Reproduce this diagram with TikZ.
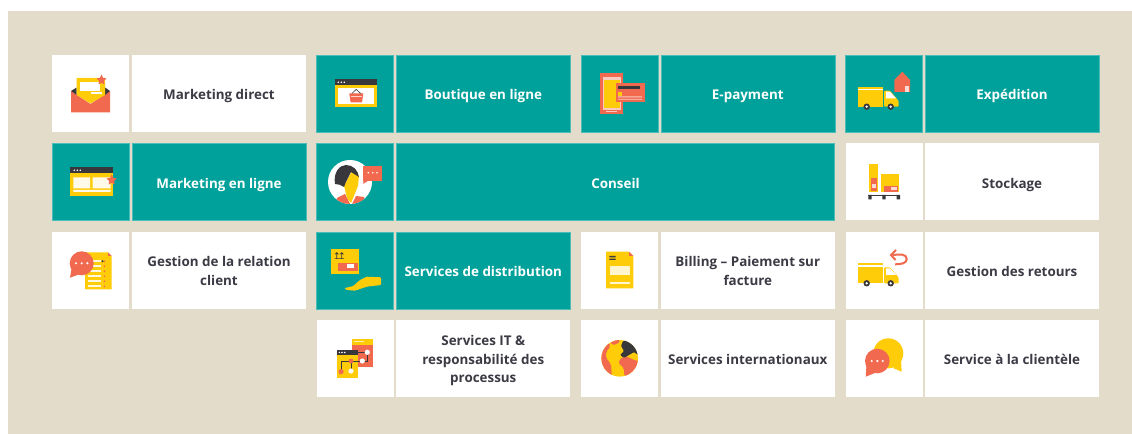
\documentclass[tikz,border=0pt]{standalone}
\usepackage{fontspec}
\setmainfont{Open Sans}
\usetikzlibrary{shapes}
\definecolor{sand}{HTML}{E3DCCB}
\definecolor{teal}{HTML}{00A19A}
\definecolor{ink}{HTML}{3B3B45}
\definecolor{sun}{HTML}{FFCC0A}
\definecolor{coral}{HTML}{F1694F}
\definecolor{coal}{HTML}{38383C}
\tikzset{
  icontile/.style={minimum width=77bp,minimum height=77bp,inner sep=0pt},
  labeltile/.style={minimum width=174bp,minimum height=77bp,inner sep=0pt,align=center,
    font=\fontsize{13.4bp}{18.5bp}\selectfont\bfseries,
    execute at begin node={\rule{0pt}{16bp}},execute at end node={\rule[-3.5bp]{0pt}{3.5bp}}},
  plain/.style={fill=white,text=ink},
  green/.style={fill=teal,text=white,draw=teal!70!white,line width=.4bp},
}
\newcommand{\stacked}[1]{\begin{tabular}{@{}c@{}}\rule{0pt}{17bp}#1\end{tabular}}
% truck used by Expedition and Gestion des retours
\newcommand{\truckshape}{
  \fill[sun] (858,86.7) rectangle (883.3,106.7);
  \fill[white] (858,88.6) rectangle (883.3,90);
  \fill[sun,rounded corners=1bp] (884,90.7) -- (890,90.7) -- (898.7,101) -- (898.7,106.7) -- (884,106.7) -- cycle;
  \fill[white] (886,91.7) -- (890,91.7) -- (896,98.3) -- (886,98.3) -- cycle;
  \fill[coal] (866.7,106.7) circle (3.2bp) (890.7,106.7) circle (3.2bp);
  \fill[white] (866.7,106.7) circle (1.3bp) (890.7,106.7) circle (1.3bp);
}
\begin{document}
\begin{tikzpicture}[x=1bp,y=-1bp]
\useasboundingbox (0,0) rectangle (1132,434);
\fill[sand] (8,11) rectangle (1132,434);
% first row
\node (IconDirect) at (90.5,93.5)[icontile,plain] {};
\node (TextDirect) at (219,93.5)[labeltile,plain] {Marketing direct};
\node (IconShop) at (355,93.5)[icontile,green] {};
\node (TextShop) at (483.3,93.5)[labeltile,green] {Boutique en ligne};
\node (IconPay) at (619.5,93.5)[icontile,green] {};
\node (TextPay) at (747.8,93.5)[labeltile,green] {E-payment};
\node (IconShip) at (884,93.5)[icontile,green] {};
\node (TextShip) at (1012,93.5)[labeltile,green] {Expédition};
% second row
\node (IconOnline) at (90.5,182)[icontile,green] {};
\node (TextOnline) at (219,182)[labeltile,green] {Marketing en ligne};
\node (IconAdvice) at (355,182)[icontile,green] {};
\node (TextAdvice) at (615.5,182)[labeltile,green,minimum width=438bp] {Conseil};
\node (IconStock) at (884,182)[icontile,plain] {};
\node (TextStock) at (1012,182)[labeltile,plain] {Stockage};
% third row
\node (IconClient) at (90.5,270.5)[icontile,plain] {};
\node (TextClient) at (219,270.5)[labeltile,plain] {\stacked{Gestion de la relation\\client}};
\node (IconDist) at (355,270.5)[icontile,green] {};
\node (TextDist) at (483.3,270.5)[labeltile,green] {Services de distribution};
\node (IconBill) at (619.5,270.5)[icontile,plain] {};
\node (TextBill) at (747.8,270.5)[labeltile,plain] {\stacked{Billing -- Paiement sur\\facture}};
\node (IconBack) at (884,270.5)[icontile,plain] {};
\node (TextBack) at (1012,270.5)[labeltile,plain] {Gestion des retours};
% fourth row
\node (IconIT) at (355,358.5)[icontile,plain] {};
\node (TextIT) at (483.3,358.5)[labeltile,plain] {\stacked{Services IT \&\\responsabilité des\\processus}};
\node (IconWorld) at (619.5,358.5)[icontile,plain] {};
\node (TextWorld) at (747.8,358.5)[labeltile,plain] {Services internationaux};
\node (IconCare) at (884,358.5)[icontile,plain] {};
\node (TextCare) at (1012,358.5)[labeltile,plain] {Service à la clientèle};
% envelope
\fill[coral] (71,91) -- (90.5,104) -- (110,91) -- (110,112.3) -- (71,112.3) -- cycle;
\fill[coal] (71,91) -- (76.7,87.5) -- (76.7,95) -- cycle (110,91) -- (105,87.5) -- (105,95) -- cycle;
\fill[sun] (76.7,78) -- (105,78) -- (105,95) -- (90.5,103.5) -- (76.7,95) -- cycle;
\fill[white] (80,82) rectangle (100,91);
\fill[white] (91,92.5) rectangle (102,94);
\fill[coral] (101.5,74.5) -- (103,77.8) -- (106.5,78.5) -- (104,81) -- (104.5,84.5) -- (101.5,82.8) -- (98.5,84.5) -- (99,81) -- (96.5,78.5) -- (100,77.8) -- cycle;
% browser with star
\fill[sun] (70.3,167.3) rectangle (112.7,195.7);
\fill[coal] (70.3,167.3) rectangle (112.7,173.3);
\fill[white] (74.3,170.3) circle (.9bp) (77.3,170.3) circle (.9bp) (80.3,170.3) circle (.9bp);
\fill[white!90!sun] (73.3,177.3) rectangle (90,188.3) (92.7,177.3) rectangle (110.7,188.3) (73.3,189.8) rectangle (110.7,192);
\fill[coral] (111.7,174.5) -- (113.2,177.8) -- (116.7,178.5) -- (114.2,181) -- (114.7,184.5) -- (111.7,182.8) -- (108.7,184.5) -- (109.2,181) -- (106.7,178.5) -- (110.2,177.8) -- cycle;
% table with speech bubble
\fill[sun] (85,252.3) -- (108,252.3) -- (111.7,256) -- (111.7,289.3) -- (85,289.3) -- cycle;
\fill[coral] (108,252.3) -- (111.7,256) -- (108,256) -- cycle;
\foreach \rowy in {260,265,270,275,280,285} {
  \fill[white!85!sun] (88,\rowy) rectangle (101,\rowy+2.5);
  \fill[coral] (104.5,\rowy+1.2) circle (.9bp);
}
\fill[coal] (102.5,261.2) circle (1.1bp);
\fill[coral] (81.7,263.3) circle (12bp);
\fill[coral] (70,277.7) -- (72,266) -- (80,274) -- cycle;
\fill[white] (76,263.3) circle (1.2bp) (81.7,263.3) circle (1.2bp) (87.4,263.3) circle (1.2bp);
% shop window
\fill[sun] (335,79.3) rectangle (377.3,107);
\fill[coal] (335,79.3) rectangle (377.3,85);
\fill[white] (338.3,82.3) circle (.9bp) (341.3,82.3) circle (.9bp) (344.3,82.3) circle (.9bp);
\fill[white] (338.3,87.7) rectangle (374,104.3);
\fill[coral] (349.3,93.5) -- (363.3,93.5) -- (362,102.3) -- (350.6,102.3) -- cycle;
\draw[coal,line width=.6bp] (352,93.5) -- (356.3,89.3) -- (360.6,93.5);
\fill[white!70!coral] (351,96.5) rectangle (361.6,97.3);
% phone and card
\fill[coral] (600,73.3) rectangle (623.3,114);
\fill[white!65!coral] (602.5,77.5) rectangle (621,110);
\fill[sun] (603.5,80) rectangle (620,108.3);
\fill[white!65!coral] (606,111.2) rectangle (617,112.2);
\fill[coral] (616,82.7) rectangle (644.7,101.7);
\fill[coal] (618,85.7) rectangle (640,89.3);
\fill[sun] (618.3,92) rectangle (622,96);
\fill[white!65!coral] (618,96.5) rectangle (642,97.4) (618,98.8) rectangle (642,99.7);
% woman with speech bubble
\fill[white] (350,182) circle (22bp);
\begin{scope}
\clip (350,182) circle (22bp);
\fill[coral] (335,207) -- (337,198) -- (345,194) -- (351,206) -- (356,196) -- (364,197) -- (368,207) -- cycle;
\fill[sun] (352,171) -- (359,176) -- (358,186) -- (351,203) -- (347,198) -- (344,186) -- cycle;
\fill[coal] (335,184) .. controls (333,172) and (340,165) .. (346,165) .. controls (353,165) and (358,170) .. (359,177) -- (351,172) .. controls (349,176) and (346,181) .. (344,187) .. controls (341,185) and (338,184) .. (335,184) -- cycle;
\end{scope}
\fill[coral] (363.3,165.7) rectangle (382,180.7);
\fill[coral] (363.3,176) -- (363.3,184) -- (368,180.7) -- cycle;
\fill[white] (368.3,172.7) circle (.9bp) (372.7,172.7) circle (.9bp) (377,172.7) circle (.9bp);
% truck and house
\truckshape
\fill[coral] (902.3,71.7) -- (910,80) -- (910,92) -- (894.3,92) -- (894.3,80) -- cycle;
\fill[white!75!coral] (905,85.7) rectangle (909,92);
% pallet with boxes
\fill[sun] (869,164.3) rectangle (878.3,191.7);
\fill[coral] (870.7,177.7) rectangle (876.7,191);
\fill[white!75!coral] (872,184) rectangle (875.5,188);
\fill[sun] (880.7,174.3) rectangle (899.3,191.7);
\fill[coral] (884.3,186) rectangle (897.7,191.7);
\fill[white!75!coral] (891,187.5) rectangle (896.5,190.5);
\fill[coal] (868.3,195) rectangle (900,196.3);
\fill[coal] (868.3,195) rectangle (871.7,199.3) (882.3,195) rectangle (885.7,199.3) (896.7,195) rectangle (900,199.3);
% box in hand
\fill[sun] (331,249.3) rectangle (359,274);
\draw[coal,line width=.6bp] (336.7,258.3) -- (336.7,252.6) (334.9,254.4) -- (336.7,252.6) -- (338.5,254.4) (341.7,258.3) -- (341.7,252.6) (339.9,254.4) -- (341.7,252.6) -- (343.5,254.4) (334.5,258.6) -- (344,258.6);
\fill[coral] (337.7,262.7) rectangle (358.3,270.7);
\fill[white] (347.3,264.3) rectangle (354,268.3);
\fill[sun,rounded corners=1bp] (344.3,288.3) -- (353.3,286) -- (360,280) -- (366.7,276.7) -- (381,277.3) -- (381,285) -- (366.7,286.7) -- (355,290.7) -- (346.7,290) -- cycle;
% invoice
\fill[sun] (606,251.7) -- (629,251.7) -- (633.3,256) -- (633.3,288.3) -- (606,288.3) -- cycle;
\fill[coral] (629,251.7) -- (633.3,256) -- (629,256) -- cycle;
\fill[coal] (609.3,256) rectangle (615.7,257.4) (609.3,258.7) rectangle (615.7,260);
\fill[white!80!sun] (610,266) rectangle (630,275);
\fill[white!80!sun] (610,281.7) rectangle (630,284);
% linked sheets
\fill[coral] (351.7,339) rectangle (373.3,367.3);
\fill[sun] (351.7,339) rectangle (373.3,345);
\fill[white!70!sun] (354,341.4) rectangle (364,342.4);
\fill[sun] (336.7,350) rectangle (358.3,377.7);
\fill[coal] (336.7,350) rectangle (358.3,355);
\fill[white] (339.3,352.5) circle (.8bp) (342,352.5) circle (.8bp) (344.7,352.5) circle (.8bp);
\draw[coal,line width=.6bp] (358,352.3) -- (367.3,352.3) -- (367.3,361) -- (362.3,361);
\draw[coal,line width=.6bp] (341,371.7) -- (341,361) -- (362.3,361) (351,361) -- (351,371);
\fill[white] (367.3,352.3) circle (2.6bp) (362.3,361) circle (2.6bp) (351,371) circle (2.6bp);
\fill[coral] (351,361) circle (2.4bp) (341,371.7) circle (2.6bp);
% globe
\fill[sun] (619.7,358.3) circle (18.3bp);
\begin{scope}
\clip (619.7,358.3) circle (18.3bp);
\fill[coral,rounded corners=2bp] (600,344) -- (607,341) -- (611,346) -- (606,352) -- (606,358) -- (611,364) -- (612,378) -- (604,376) -- (600,368) -- cycle;
\fill[coral,rounded corners=1bp] (610,343) -- (618,339) -- (620,342) -- (614,345) -- cycle;
\fill[coral,rounded corners=2bp] (618,363) -- (622,357) -- (629,357) -- (633,360) -- (640,361) -- (640,370) -- (630,378) -- (624,376) -- (624,368) -- cycle;
\fill[coal,rounded corners=1bp] (623,341) -- (630,340) -- (636,345) -- (638,350) -- (638,355) -- (634,352) -- (629,355) -- (624,358) -- (620,355) -- (624,351) -- (621,346) -- cycle;
\end{scope}
% returning truck
\begin{scope}[shift={(0,176.6)}]
\truckshape
\end{scope}
\draw[coral,line width=2bp] (893,255) .. controls (900,254) and (906.7,254) .. (906.7,259) .. controls (906.7,263.5) and (901,264.3) .. (895,264.3);
\draw[coral,line width=2bp] (896,250) -- (891,255) -- (895.5,260);
% two bubbles
\fill[sun] (888.3,353.3) circle (15bp);
\fill[sun] (901.7,371.7) -- (901,360) -- (893,368) -- cycle;
\fill[coral] (877.3,361) circle (12.3bp);
\fill[coral] (865.7,376.7) -- (866.5,365) -- (875,373) -- cycle;
\fill[white] (871.7,361) circle (1.2bp) (877.3,361) circle (1.2bp) (882.7,361) circle (1.2bp);
\end{tikzpicture}
\end{document}
